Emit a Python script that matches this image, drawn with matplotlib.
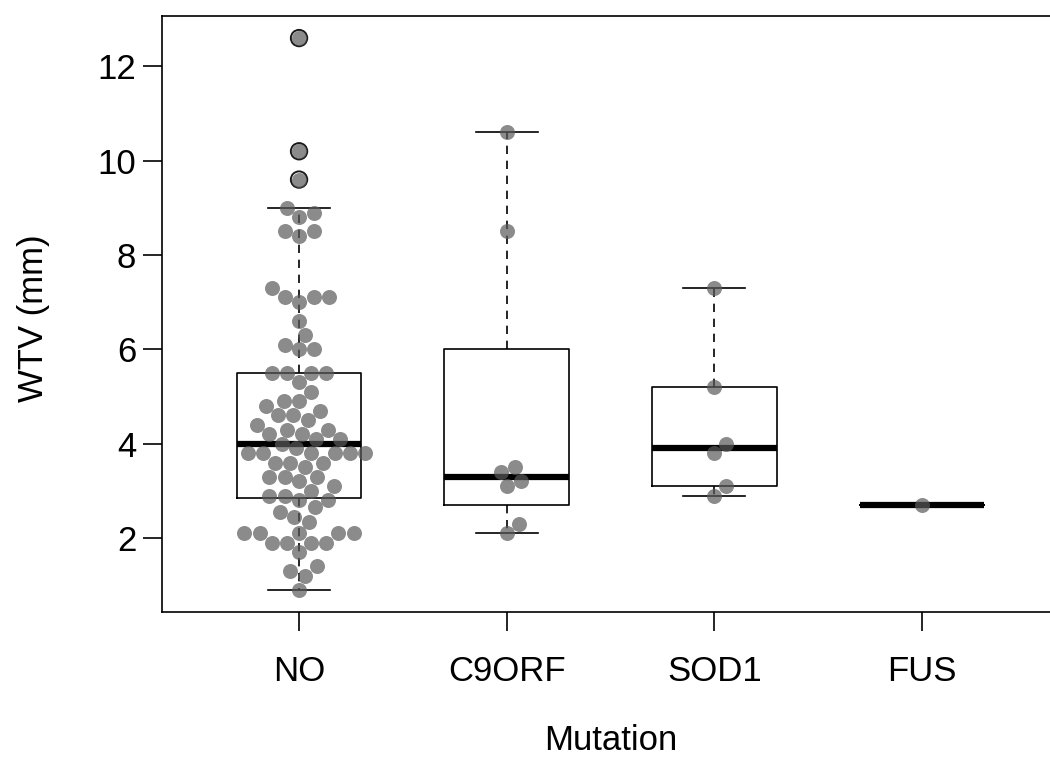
import numpy as np
import matplotlib
matplotlib.use("Agg")
import matplotlib.pyplot as plt

OUTPUT_FILE = "out.png"

# WTV values (mm) per mutation group
groups = ["NO", "C9ORF", "SOD1", "FUS"]
wtv_no = [0.9, 1.2, 1.3, 1.4, 1.7, 1.9, 1.9, 1.9, 1.9, 2.1, 2.1, 2.1, 2.1, 2.1,
          2.35, 2.45, 2.55, 2.65, 2.8, 2.8, 2.9, 2.9, 3.0, 3.1, 3.2, 3.3, 3.3, 3.3,
          3.5, 3.6, 3.6, 3.6, 3.8, 3.8, 3.8, 3.8, 3.8, 3.8, 3.9, 4.0, 4.1, 4.1,
          4.2, 4.2, 4.3, 4.3, 4.4, 4.5, 4.6, 4.6, 4.7, 4.8, 4.9, 4.9, 5.1, 5.3,
          5.5, 5.5, 5.5, 5.5, 6.0, 6.0, 6.1, 6.3, 6.6, 7.0, 7.1, 7.1, 7.1, 7.3,
          8.4, 8.5, 8.5, 8.8, 8.9, 9.0, 9.6, 10.2, 12.6]
wtv_c9orf = [10.6, 8.5, 3.5, 3.4, 3.2, 3.1, 2.3, 2.1]
wtv_sod1 = [7.3, 5.2, 4.0, 3.8, 3.1, 2.9]
wtv_fus = [2.7]
all_groups = [wtv_no, wtv_c9orf, wtv_sod1, wtv_fus]

DOT_PT = 10.8      # dot diameter in points
SPACING_PT = 11.0  # swarm spacing in points


def fivenum(v):
    v = np.sort(np.asarray(v, dtype=float))
    n = len(v)
    n4 = np.floor((n + 3) / 2) / 2
    d = np.array([1, n4, (n + 1) / 2, n + 1 - n4, n]) - 1
    return 0.5 * (v[np.floor(d).astype(int)] + v[np.ceil(d).astype(int)])


def box_stats(v, label, coef=1.5):
    v = np.asarray(v, dtype=float)
    lo, q1, med, q3, hi = fivenum(v)
    iqr = q3 - q1
    inside = v[(v >= q1 - coef * iqr) & (v <= q3 + coef * iqr)]
    fliers = v[(v < q1 - coef * iqr) | (v > q3 + coef * iqr)]
    return dict(med=med, q1=q1, q3=q3, whislo=inside.min(), whishi=inside.max(),
                fliers=fliers, label=label)


def swarm_offsets(vals, d):
    # R beeswarm "swarm" method, ascending priority, right side first on ties
    vals = np.asarray(vals, dtype=float)
    off = np.zeros(len(vals))
    placed = []
    for i in np.argsort(vals, kind="stable"):
        near = [j for j in placed if abs(vals[i] - vals[j]) < d]
        pos, neg = [], []
        for j in near:
            dx = np.sqrt(d * d - (vals[i] - vals[j]) ** 2)
            pos.append(off[j] + dx)
            neg.append(off[j] - dx)
        best, best_abs = 0.0, np.inf
        for c in [0.0] + pos + neg:
            bad = any((c - off[j]) ** 2 + (vals[i] - vals[j]) ** 2 < 0.999 * d * d
                      for j in near)
            if not bad and abs(c) < best_abs:
                best, best_abs = c, abs(c)
        off[i] = best
        placed.append(i)
    return off


def plot_chart():
    plt.rcParams["font.family"] = ["Liberation Sans", "DejaVu Sans"]
    fig = plt.figure(figsize=(10.5, 7.6), dpi=100)
    ax = fig.add_axes([162 / 1050, 1 - 612 / 760, 897 / 1050, 596 / 760])

    positions = np.arange(1, len(groups) + 1)
    allv = np.concatenate([np.asarray(g, float) for g in all_groups])
    lo, hi = allv.min(), allv.max()
    ax.set_ylim(lo - 0.04 * (hi - lo), hi + 0.04 * (hi - lo))
    ax.set_xlim(0.5 - 0.04 * 4, len(groups) + 0.5 + 0.04 * 4)

    stats = [box_stats(g, name) for g, name in zip(all_groups, groups)]
    ax.bxp(stats, positions=positions, widths=0.6, capwidths=0.3,
           showfliers=False, patch_artist=False,
           boxprops=dict(color="black", linewidth=1.2),
           whiskerprops=dict(color="black", linewidth=1.2, linestyle=(0, (5, 4))),
           capprops=dict(color="black", linewidth=1.2),
           medianprops=dict(color="black", linewidth=4.5, solid_capstyle="butt"))

    # outliers as open rings (boxplot), under the swarm dots
    for pos, st in zip(positions, stats):
        if len(st["fliers"]):
            ax.scatter(np.full(len(st["fliers"]), pos), st["fliers"], s=11.8 ** 2,
                       facecolors="none", edgecolors="#1a1a1a", linewidths=1.4,
                       zorder=3)

    # beeswarm points
    t0 = ax.transData.transform((0, 0))
    t1 = ax.transData.transform((1, 1))
    px_x, px_y = t1[0] - t0[0], t1[1] - t0[1]
    d = SPACING_PT * fig.dpi / 72
    for pos, g in zip(positions, all_groups):
        off = swarm_offsets(np.asarray(g, float) * px_y, d)
        ax.scatter(pos + off / px_x, g, s=DOT_PT ** 2, color="#5a5a5a",
                   alpha=0.7, linewidths=0, zorder=4)

    ax.set_xticks(positions)
    ax.set_xticklabels(groups)
    ax.set_yticks([2, 4, 6, 8, 10, 12])
    ax.tick_params(direction="out", length=14, width=1.2, color="black",
                   labelsize=25)
    ax.tick_params(axis="x", pad=17)
    ax.tick_params(axis="y", pad=4.5)
    for sp in ax.spines.values():
        sp.set_linewidth(1.2)
        sp.set_color("black")

    ax.set_xlabel("Mutation", fontsize=25, va="bottom")
    ax.xaxis.set_label_coords(0.5, -0.2435)
    ax.set_ylabel("WTV (mm)", fontsize=25, va="center")
    ax.yaxis.set_label_coords(-0.1427, 0.493)

    fig.savefig(OUTPUT_FILE, dpi=100)


if __name__ == "__main__":
    plot_chart()
